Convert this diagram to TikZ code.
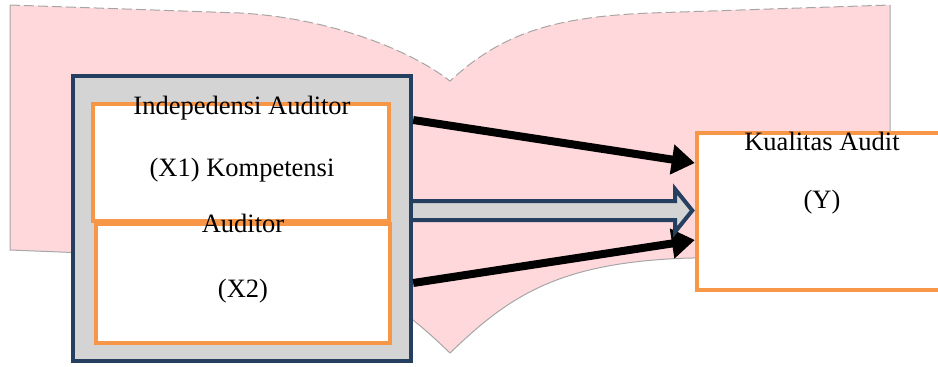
\documentclass[tikz,border=0pt]{standalone}
\usepackage{fontspec}
\setmainfont{Liberation Serif}
\usepackage{tikz}
\usepackage{xcolor}
\usetikzlibrary{arrows.meta}
\definecolor{bgpink}{RGB}{255,216,219}
\definecolor{navyline}{RGB}{36,63,96}
\definecolor{orangeline}{RGB}{247,150,70}
\definecolor{boxgray}{RGB}{212,212,212}
\begin{document}
\begin{tikzpicture}[x=0.5pt,y=-0.5pt,
  varbox/.style={draw=orangeline,line width=2.2pt,fill=white,inner sep=0pt},
  groupbox/.style={draw=navyline,fill=boxgray,line width=2.2pt,inner sep=0pt},
  lbl/.style={anchor=base,inner sep=0pt,font=\fontsize{13.25}{16}\selectfont},
  bigarrow/.style={black,line width=4pt,-{Triangle[length=11.5pt,width=14.5pt]}},
  blockarrow/.style={draw=navyline,fill=boxgray,line width=2pt,line join=miter}]
\useasboundingbox (0,0) rectangle (938,366);
\fill[bgpink] (10,5) -- (240,13) .. controls (330,18) and (410,50) .. (450,81)
  .. controls (500,35) and (550,17) .. (650,13) -- (890,5) -- (890,257) -- (690,258)
  .. controls (560,262) and (510,295) .. (450,353)
  .. controls (390,295) and (340,262) .. (210,258) -- (10,250) -- cycle;
\draw[gray!70,line width=0.5pt,dash pattern=on 5pt off 2pt] (10,5) -- (240,13)
  .. controls (330,18) and (410,50) .. (450,81)
  .. controls (500,35) and (550,17) .. (650,13) -- (890,5);
\draw[gray!70,line width=0.5pt] (890,5) -- (890,257) -- (690,258)
  .. controls (560,262) and (510,295) .. (450,353)
  .. controls (390,295) and (340,262) .. (210,258) -- (10,250) -- (10,5);
\node[groupbox,minimum width=169pt,minimum height=142.5pt] (outer) at (242,218.5) {};
\node[varbox,minimum width=148pt,minimum height=58.5pt] (indep) at (241,162.5) {};
\node[varbox,minimum width=147pt,minimum height=59.5pt] (komp) at (243,283.5) {};
\node[lbl] (indeptxt) at (242,114) {Indepedensi Auditor};
\node[lbl] (xonetxt) at (242,176) {(X1) Kompetensi};
\node[lbl] (komptxt) at (243,232) {Auditor};
\node[lbl] (xtwotxt) at (243,297) {(X2)};
\node[varbox,minimum width=125pt,minimum height=78.5pt] (kual) at (822,211.5) {};
\node[lbl] (kualtxt) at (822,150) {Kualitas Audit};
\node[lbl] (ytxt) at (822,208) {(Y)};
\draw[bigarrow] (outer.east |- 0,120) -- (kual.west |- 0,163);
\draw[bigarrow] (outer.east |- 0,283) -- (kual.west |- 0,240);
\draw[blockarrow] (outer.east |- 0,201) -- (675,201) -- (675,189)
  -- ([xshift=-1.25pt]kual.west |- 0,210.5) -- (675,232) -- (675,220)
  -- (outer.east |- 0,220);
\end{tikzpicture}
\end{document}
